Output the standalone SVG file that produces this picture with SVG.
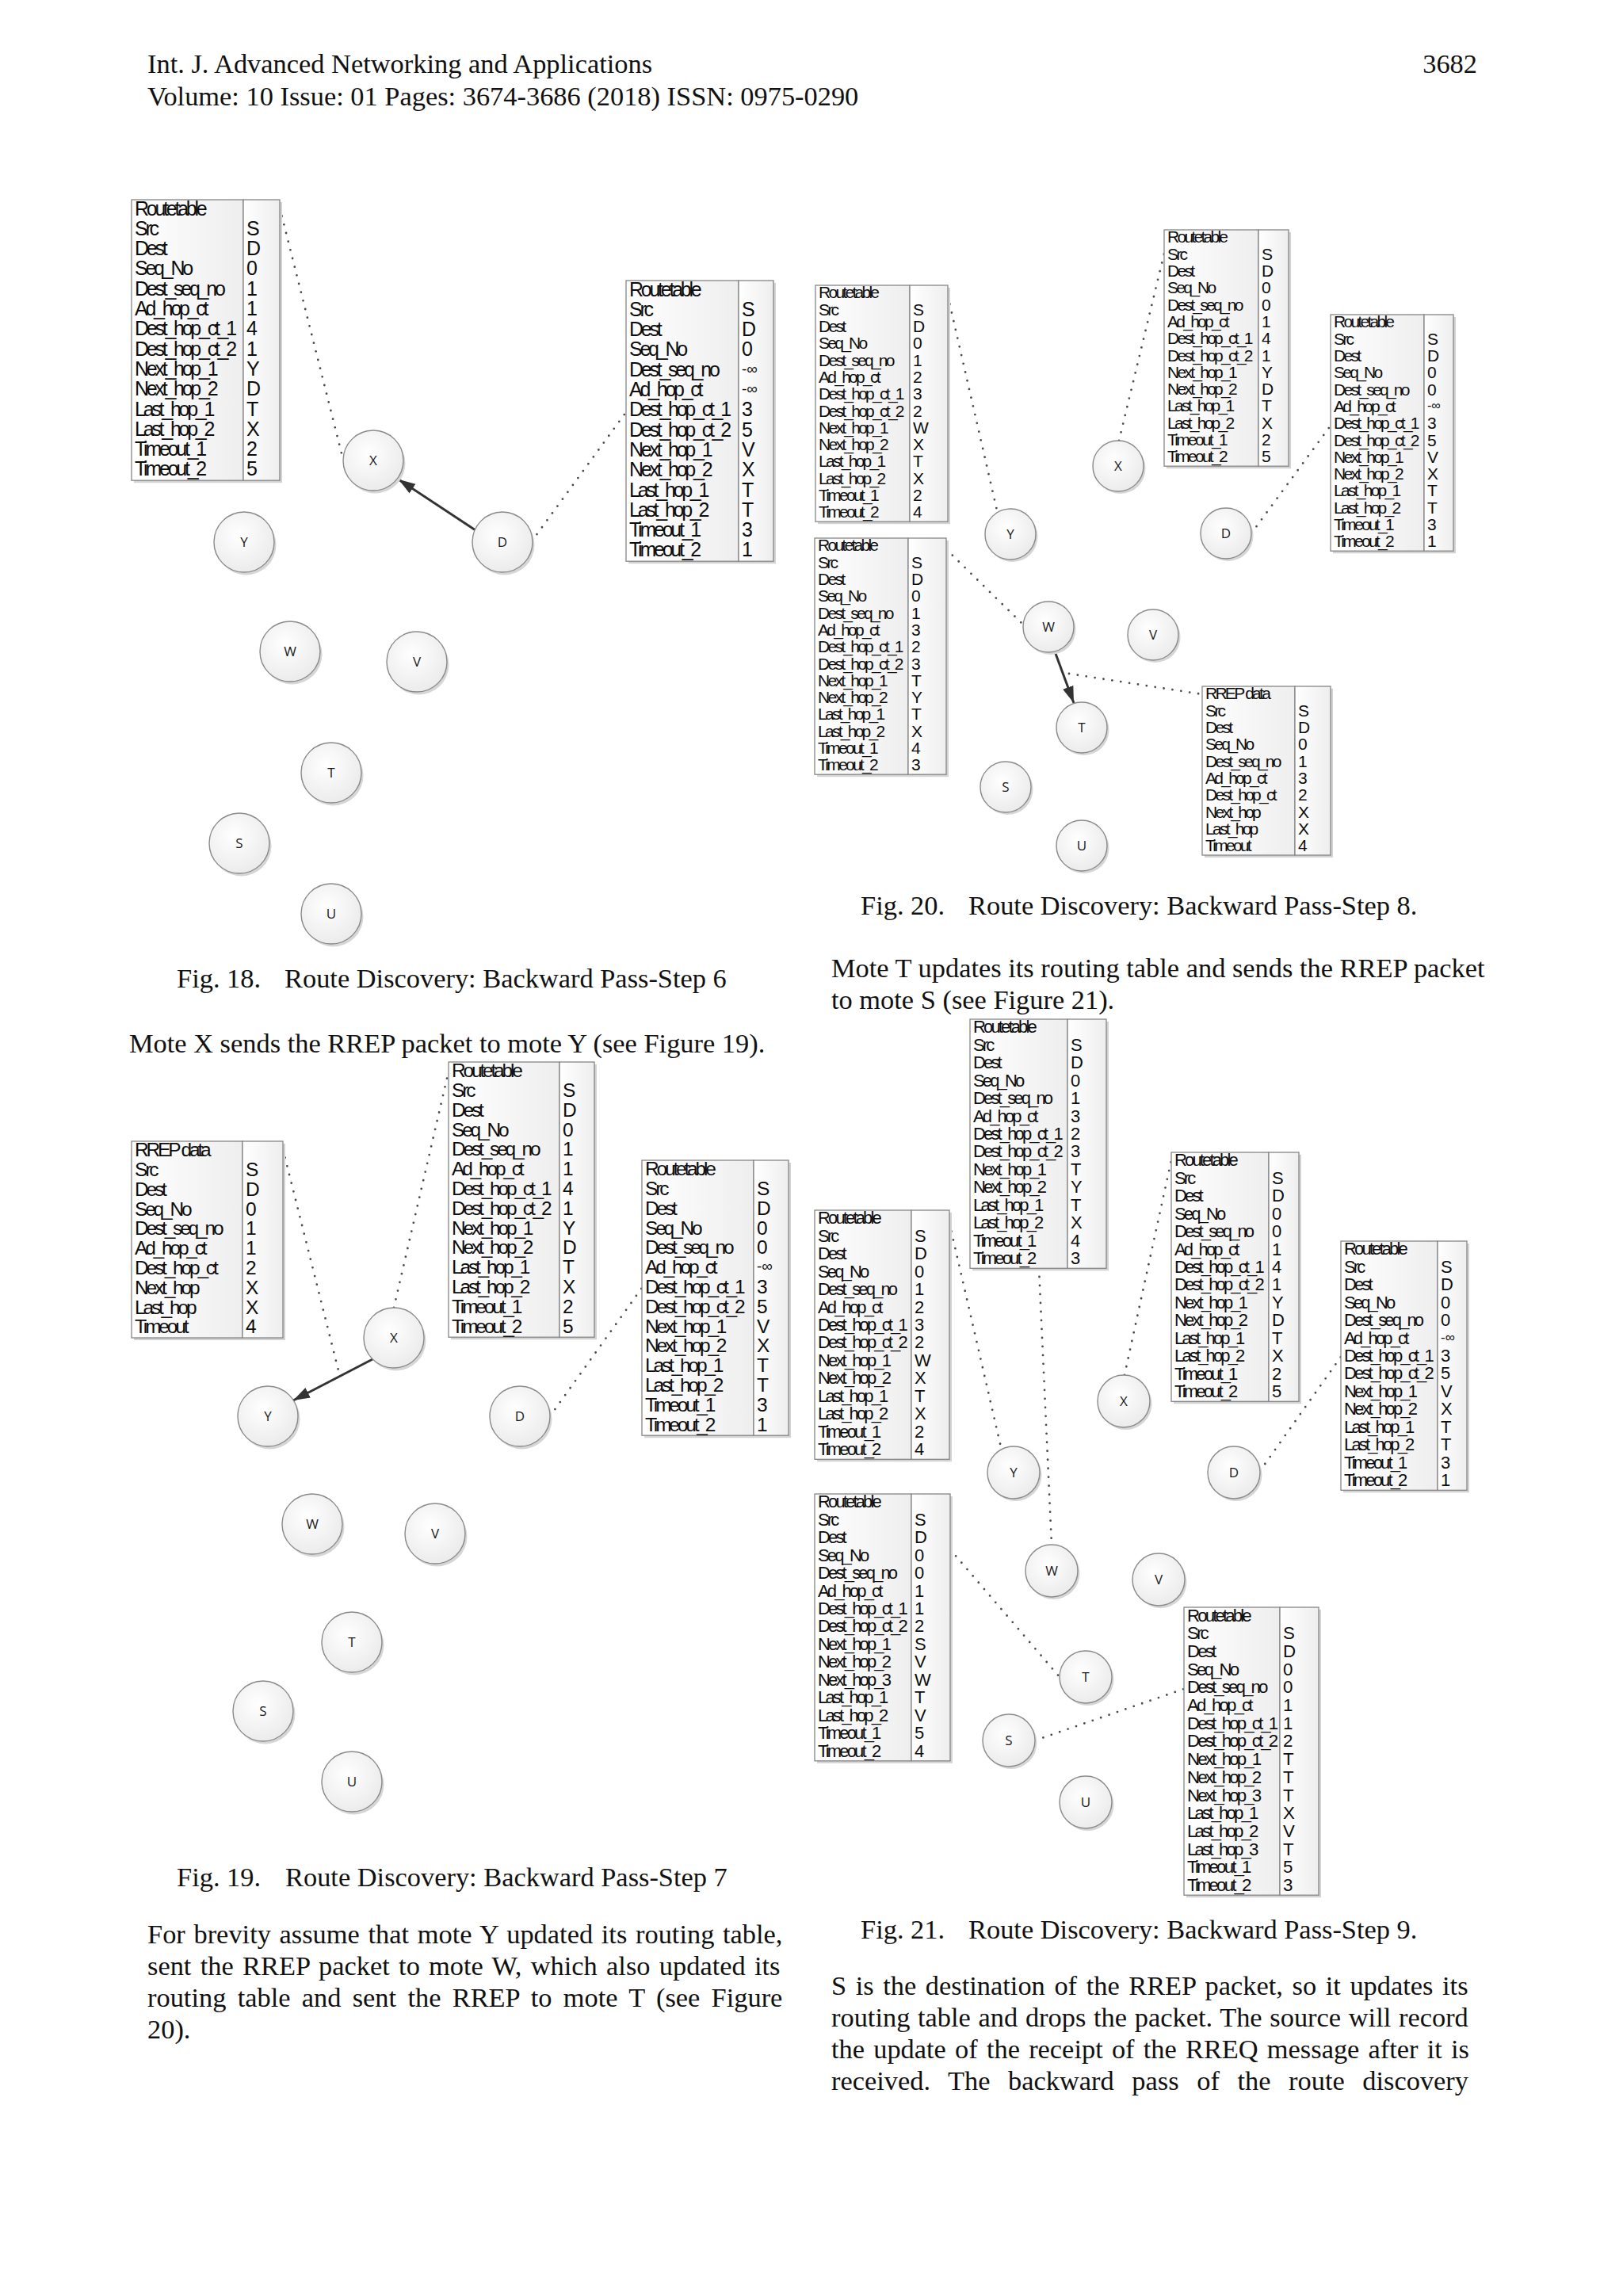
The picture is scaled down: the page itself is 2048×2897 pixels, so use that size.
<svg xmlns="http://www.w3.org/2000/svg" width="2048" height="2897" viewBox="0 0 2048 2897">
<defs>
<linearGradient id="cg" x1="0" y1="0" x2="1" y2="0"><stop offset="0" stop-color="#ffffff"/><stop offset="1" stop-color="#eeeeee"/></linearGradient>
<radialGradient id="ng" cx="0.42" cy="0.38" r="0.7"><stop offset="0" stop-color="#ffffff"/><stop offset="1" stop-color="#e9e9e9"/></radialGradient>
<marker id="ah" markerUnits="userSpaceOnUse" markerWidth="24" markerHeight="18" refX="21" refY="8" orient="auto"><path d="M0,1 L21,8 L0,15 z" fill="#333"/></marker>
<style>
.c{fill:url(#cg);stroke:#868686;stroke-width:1.3}
.sh{fill:#d3d3d3}
.tt text{font-family:"Liberation Sans",Arial,sans-serif;fill:#0d0d0d;letter-spacing:-0.13em}
.tt text.v{letter-spacing:0}
.nb{fill:url(#ng);stroke:#8a8a8a;stroke-width:1.4}
.ns{fill:#d6d6d6}
.nt{font-family:"Open Sans","Liberation Sans",sans-serif;font-size:17px;text-anchor:middle;fill:#1a1a1a}
.dot{fill:none;stroke:#4a4a4a;stroke-width:2.8;stroke-linecap:round;stroke-dasharray:0 11}
.arr{fill:none;stroke:#333;stroke-width:3;marker-end:url(#ah)}
.bt{font-family:"Liberation Serif","Times New Roman",serif;font-size:34.4px;fill:#111}
</style>
</defs>
<rect width="2048" height="2897" fill="#ffffff"/>

<g id="header" class="bt">
<text x="186" y="92">Int. J. Advanced Networking and Applications</text>
<text x="186" y="133">Volume: 10 Issue: 01 Pages: 3674-3686 (2018) ISSN: 0975-0290</text>
<text x="1864" y="92" text-anchor="end">3682</text>
</g>

<g id="connectors">
<line class="dot" x1="353" y1="262" x2="433" y2="580"/>
<line class="arr" x1="600" y1="669" x2="503" y2="605"/>
<line class="dot" x1="671" y1="683" x2="790" y2="520"/>
<line class="dot" x1="357" y1="1450" x2="427" y2="1729"/>
<line class="arr" x1="474" y1="1713" x2="370" y2="1767"/>
<line class="dot" x1="497" y1="1650" x2="566" y2="1352"/>
<line class="dot" x1="694" y1="1787" x2="810" y2="1625"/>
<line class="dot" x1="1196" y1="373" x2="1258" y2="644"/>
<line class="dot" x1="1412" y1="556" x2="1469" y2="320"/>
<line class="dot" x1="1579" y1="673" x2="1679" y2="537"/>
<line class="dot" x1="1194" y1="693" x2="1291" y2="788"/>
<line class="arr" x1="1331" y1="822" x2="1355" y2="887"/>
<line class="dot" x1="1349" y1="850" x2="1517" y2="876"/>
<line class="dot" x1="1198" y1="1543" x2="1263" y2="1826"/>
<line class="dot" x1="1311" y1="1600" x2="1327" y2="1949"/>
<line class="dot" x1="1419" y1="1735" x2="1478" y2="1464"/>
<line class="dot" x1="1590" y1="1856" x2="1692" y2="1712"/>
<line class="dot" x1="1199" y1="1955" x2="1337" y2="2116"/>
<line class="dot" x1="1306" y1="2196" x2="1494" y2="2131"/>
</g>

<g id="fig18-nodes">
<g id="n18-X" transform="translate(471,581)"><circle class="ns" cx="2.5" cy="3.5" r="38"/><circle class="nb" r="38"/><text class="nt" y="6">X</text></g>
<g id="n18-Y" transform="translate(308,684)"><circle class="ns" cx="2.5" cy="3.5" r="38"/><circle class="nb" r="38"/><text class="nt" y="6">Y</text></g>
<g id="n18-D" transform="translate(634,684)"><circle class="ns" cx="2.5" cy="3.5" r="38"/><circle class="nb" r="38"/><text class="nt" y="6">D</text></g>
<g id="n18-W" transform="translate(366,822)"><circle class="ns" cx="2.5" cy="3.5" r="38"/><circle class="nb" r="38"/><text class="nt" y="6">W</text></g>
<g id="n18-V" transform="translate(526,835)"><circle class="ns" cx="2.5" cy="3.5" r="38"/><circle class="nb" r="38"/><text class="nt" y="6">V</text></g>
<g id="n18-T" transform="translate(418,975)"><circle class="ns" cx="2.5" cy="3.5" r="38"/><circle class="nb" r="38"/><text class="nt" y="6">T</text></g>
<g id="n18-S" transform="translate(302,1064)"><circle class="ns" cx="2.5" cy="3.5" r="38"/><circle class="nb" r="38"/><text class="nt" y="6">S</text></g>
<g id="n18-U" transform="translate(418,1153)"><circle class="ns" cx="2.5" cy="3.5" r="38"/><circle class="nb" r="38"/><text class="nt" y="6">U</text></g>
</g>

<g id="fig19-nodes">
<g id="n19-X" transform="translate(497,1688)"><circle class="ns" cx="2.5" cy="3.5" r="38"/><circle class="nb" r="38"/><text class="nt" y="6">X</text></g>
<g id="n19-Y" transform="translate(338,1787)"><circle class="ns" cx="2.5" cy="3.5" r="38"/><circle class="nb" r="38"/><text class="nt" y="6">Y</text></g>
<g id="n19-D" transform="translate(656,1787)"><circle class="ns" cx="2.5" cy="3.5" r="38"/><circle class="nb" r="38"/><text class="nt" y="6">D</text></g>
<g id="n19-W" transform="translate(394,1923)"><circle class="ns" cx="2.5" cy="3.5" r="38"/><circle class="nb" r="38"/><text class="nt" y="6">W</text></g>
<g id="n19-V" transform="translate(549,1935)"><circle class="ns" cx="2.5" cy="3.5" r="38"/><circle class="nb" r="38"/><text class="nt" y="6">V</text></g>
<g id="n19-T" transform="translate(444,2072)"><circle class="ns" cx="2.5" cy="3.5" r="38"/><circle class="nb" r="38"/><text class="nt" y="6">T</text></g>
<g id="n19-S" transform="translate(332,2159)"><circle class="ns" cx="2.5" cy="3.5" r="38"/><circle class="nb" r="38"/><text class="nt" y="6">S</text></g>
<g id="n19-U" transform="translate(444,2248)"><circle class="ns" cx="2.5" cy="3.5" r="38"/><circle class="nb" r="38"/><text class="nt" y="6">U</text></g>
</g>

<g id="fig20-nodes">
<g id="n20-X" transform="translate(1411,588)"><circle class="ns" cx="2.5" cy="3" r="32"/><circle class="nb" r="32"/><text class="nt" y="6">X</text></g>
<g id="n20-Y" transform="translate(1275,674)"><circle class="ns" cx="2.5" cy="3" r="32"/><circle class="nb" r="32"/><text class="nt" y="6">Y</text></g>
<g id="n20-D" transform="translate(1547,673)"><circle class="ns" cx="2.5" cy="3" r="32"/><circle class="nb" r="32"/><text class="nt" y="6">D</text></g>
<g id="n20-W" transform="translate(1323,791)"><circle class="ns" cx="2.5" cy="3" r="32"/><circle class="nb" r="32"/><text class="nt" y="6">W</text></g>
<g id="n20-V" transform="translate(1455,801)"><circle class="ns" cx="2.5" cy="3" r="32"/><circle class="nb" r="32"/><text class="nt" y="6">V</text></g>
<g id="n20-T" transform="translate(1365,918)"><circle class="ns" cx="2.5" cy="3" r="32"/><circle class="nb" r="32"/><text class="nt" y="6">T</text></g>
<g id="n20-S" transform="translate(1269,993)"><circle class="ns" cx="2.5" cy="3" r="32"/><circle class="nb" r="32"/><text class="nt" y="6">S</text></g>
<g id="n20-U" transform="translate(1365,1067)"><circle class="ns" cx="2.5" cy="3" r="32"/><circle class="nb" r="32"/><text class="nt" y="6">U</text></g>
</g>

<g id="fig21-nodes">
<g id="n21-X" transform="translate(1418,1768)"><circle class="ns" cx="2.5" cy="3" r="33"/><circle class="nb" r="33"/><text class="nt" y="6">X</text></g>
<g id="n21-Y" transform="translate(1279,1858)"><circle class="ns" cx="2.5" cy="3" r="33"/><circle class="nb" r="33"/><text class="nt" y="6">Y</text></g>
<g id="n21-D" transform="translate(1557,1858)"><circle class="ns" cx="2.5" cy="3" r="33"/><circle class="nb" r="33"/><text class="nt" y="6">D</text></g>
<g id="n21-W" transform="translate(1327,1982)"><circle class="ns" cx="2.5" cy="3" r="33"/><circle class="nb" r="33"/><text class="nt" y="6">W</text></g>
<g id="n21-V" transform="translate(1462,1993)"><circle class="ns" cx="2.5" cy="3" r="33"/><circle class="nb" r="33"/><text class="nt" y="6">V</text></g>
<g id="n21-T" transform="translate(1370,2116)"><circle class="ns" cx="2.5" cy="3" r="33"/><circle class="nb" r="33"/><text class="nt" y="6">T</text></g>
<g id="n21-S" transform="translate(1273,2196)"><circle class="ns" cx="2.5" cy="3" r="33"/><circle class="nb" r="33"/><text class="nt" y="6">S</text></g>
<g id="n21-U" transform="translate(1370,2274)"><circle class="ns" cx="2.5" cy="3" r="33"/><circle class="nb" r="33"/><text class="nt" y="6">U</text></g>
</g>

<g id="t18a" transform="translate(166,252)">
<rect class="sh" x="3" y="3" width="187" height="354.2"/>
<rect class="c" width="141" height="354.2"/><rect class="c" x="141" width="46" height="354.2"/>
<g class="tt" font-size="25">
<text x="4" y="19.5">Routetable</text><text x="4" y="44.8">Src</text><text x="4" y="70.1">Dest</text><text x="4" y="95.4">Seq_No</text><text x="4" y="120.7">Dest_seq_no</text><text x="4" y="146">Ad_hop_ct</text><text x="4" y="171.3">Dest_hop_ct_1</text><text x="4" y="196.6">Dest_hop_ct_2</text><text x="4" y="221.9">Next_hop_1</text><text x="4" y="247.2">Next_hop_2</text><text x="4" y="272.5">Last_hop_1</text><text x="4" y="297.8">Last_hop_2</text><text x="4" y="323.1">Timeout_1</text><text x="4" y="348.4">Timeout_2</text>
<text class="v" x="145" y="44.8">S</text><text class="v" x="145" y="70.1">D</text><text class="v" x="145" y="95.4">0</text><text class="v" x="145" y="120.7">1</text><text class="v" x="145" y="146">1</text><text class="v" x="145" y="171.3">4</text><text class="v" x="145" y="196.6">1</text><text class="v" x="145" y="221.9">Y</text><text class="v" x="145" y="247.2">D</text><text class="v" x="145" y="272.5">T</text><text class="v" x="145" y="297.8">X</text><text class="v" x="145" y="323.1">2</text><text class="v" x="145" y="348.4">5</text>
</g></g>

<g id="t18b" transform="translate(790,354)">
<rect class="sh" x="3" y="3" width="186" height="354.2"/>
<rect class="c" width="142" height="354.2"/><rect class="c" x="142" width="44" height="354.2"/>
<g class="tt" font-size="25">
<text x="4" y="19.5">Routetable</text><text x="4" y="44.8">Src</text><text x="4" y="70.1">Dest</text><text x="4" y="95.4">Seq_No</text><text x="4" y="120.7">Dest_seq_no</text><text x="4" y="146">Ad_hop_ct</text><text x="4" y="171.3">Dest_hop_ct_1</text><text x="4" y="196.6">Dest_hop_ct_2</text><text x="4" y="221.9">Next_hop_1</text><text x="4" y="247.2">Next_hop_2</text><text x="4" y="272.5">Last_hop_1</text><text x="4" y="297.8">Last_hop_2</text><text x="4" y="323.1">Timeout_1</text><text x="4" y="348.4">Timeout_2</text>
<text class="v" x="146" y="44.8">S</text><text class="v" x="146" y="70.1">D</text><text class="v" x="146" y="95.4">0</text><text class="v" x="146" y="117.7" font-size="19">-∞</text><text class="v" x="146" y="143" font-size="19">-∞</text><text class="v" x="146" y="171.3">3</text><text class="v" x="146" y="196.6">5</text><text class="v" x="146" y="221.9">V</text><text class="v" x="146" y="247.2">X</text><text class="v" x="146" y="272.5">T</text><text class="v" x="146" y="297.8">T</text><text class="v" x="146" y="323.1">3</text><text class="v" x="146" y="348.4">1</text>
</g></g>

<g id="t19rrep" transform="translate(166,1440)">
<rect class="sh" x="3" y="3" width="191" height="248"/>
<rect class="c" width="140" height="248"/><rect class="c" x="140" width="51" height="248"/>
<g class="tt" font-size="24.5">
<text x="4" y="19.1">RREP data</text><text x="4" y="43.9">Src</text><text x="4" y="68.7">Dest</text><text x="4" y="93.5">Seq_No</text><text x="4" y="118.3">Dest_seq_no</text><text x="4" y="143.1">Ad_hop_ct</text><text x="4" y="167.9">Dest_hop_ct</text><text x="4" y="192.7">Next_hop</text><text x="4" y="217.5">Last_hop</text><text x="4" y="242.3">Timeout</text>
<text class="v" x="144" y="43.9">S</text><text class="v" x="144" y="68.7">D</text><text class="v" x="144" y="93.5">0</text><text class="v" x="144" y="118.3">1</text><text class="v" x="144" y="143.1">1</text><text class="v" x="144" y="167.9">2</text><text class="v" x="144" y="192.7">X</text><text class="v" x="144" y="217.5">X</text><text class="v" x="144" y="242.3">4</text>
</g></g>

<g id="t19x" transform="translate(566,1340)">
<rect class="sh" x="3" y="3" width="184" height="347.2"/>
<rect class="c" width="140" height="347.2"/><rect class="c" x="140" width="44" height="347.2"/>
<g class="tt" font-size="24.5">
<text x="4" y="19.1">Routetable</text><text x="4" y="43.9">Src</text><text x="4" y="68.7">Dest</text><text x="4" y="93.5">Seq_No</text><text x="4" y="118.3">Dest_seq_no</text><text x="4" y="143.1">Ad_hop_ct</text><text x="4" y="167.9">Dest_hop_ct_1</text><text x="4" y="192.7">Dest_hop_ct_2</text><text x="4" y="217.5">Next_hop_1</text><text x="4" y="242.3">Next_hop_2</text><text x="4" y="267.1">Last_hop_1</text><text x="4" y="291.9">Last_hop_2</text><text x="4" y="316.7">Timeout_1</text><text x="4" y="341.5">Timeout_2</text>
<text class="v" x="144" y="43.9">S</text><text class="v" x="144" y="68.7">D</text><text class="v" x="144" y="93.5">0</text><text class="v" x="144" y="118.3">1</text><text class="v" x="144" y="143.1">1</text><text class="v" x="144" y="167.9">4</text><text class="v" x="144" y="192.7">1</text><text class="v" x="144" y="217.5">Y</text><text class="v" x="144" y="242.3">D</text><text class="v" x="144" y="267.1">T</text><text class="v" x="144" y="291.9">X</text><text class="v" x="144" y="316.7">2</text><text class="v" x="144" y="341.5">5</text>
</g></g>

<g id="t19d" transform="translate(810,1464)">
<rect class="sh" x="3" y="3" width="185" height="347.2"/>
<rect class="c" width="141" height="347.2"/><rect class="c" x="141" width="44" height="347.2"/>
<g class="tt" font-size="24.5">
<text x="4" y="19.1">Routetable</text><text x="4" y="43.9">Src</text><text x="4" y="68.7">Dest</text><text x="4" y="93.5">Seq_No</text><text x="4" y="118.3">Dest_seq_no</text><text x="4" y="143.1">Ad_hop_ct</text><text x="4" y="167.9">Dest_hop_ct_1</text><text x="4" y="192.7">Dest_hop_ct_2</text><text x="4" y="217.5">Next_hop_1</text><text x="4" y="242.3">Next_hop_2</text><text x="4" y="267.1">Last_hop_1</text><text x="4" y="291.9">Last_hop_2</text><text x="4" y="316.7">Timeout_1</text><text x="4" y="341.5">Timeout_2</text>
<text class="v" x="145" y="43.9">S</text><text class="v" x="145" y="68.7">D</text><text class="v" x="145" y="93.5">0</text><text class="v" x="145" y="118.3">0</text><text class="v" x="145" y="140.1" font-size="19">-∞</text><text class="v" x="145" y="167.9">3</text><text class="v" x="145" y="192.7">5</text><text class="v" x="145" y="217.5">V</text><text class="v" x="145" y="242.3">X</text><text class="v" x="145" y="267.1">T</text><text class="v" x="145" y="291.9">T</text><text class="v" x="145" y="316.7">3</text><text class="v" x="145" y="341.5">1</text>
</g></g>

<g id="t20y" transform="translate(1029,360)">
<rect class="sh" x="3" y="3" width="167" height="298.2"/>
<rect class="c" width="119" height="298.2"/><rect class="c" x="119" width="48" height="298.2"/>
<g class="tt" font-size="21">
<text x="4" y="16.4">Routetable</text><text x="4" y="37.7">Src</text><text x="4" y="59">Dest</text><text x="4" y="80.3">Seq_No</text><text x="4" y="101.6">Dest_seq_no</text><text x="4" y="122.9">Ad_hop_ct</text><text x="4" y="144.2">Dest_hop_ct_1</text><text x="4" y="165.5">Dest_hop_ct_2</text><text x="4" y="186.8">Next_hop_1</text><text x="4" y="208.1">Next_hop_2</text><text x="4" y="229.4">Last_hop_1</text><text x="4" y="250.7">Last_hop_2</text><text x="4" y="272">Timeout_1</text><text x="4" y="293.3">Timeout_2</text>
<text class="v" x="123" y="37.7">S</text><text class="v" x="123" y="59">D</text><text class="v" x="123" y="80.3">0</text><text class="v" x="123" y="101.6">1</text><text class="v" x="123" y="122.9">2</text><text class="v" x="123" y="144.2">3</text><text class="v" x="123" y="165.5">2</text><text class="v" x="123" y="186.8">W</text><text class="v" x="123" y="208.1">X</text><text class="v" x="123" y="229.4">T</text><text class="v" x="123" y="250.7">X</text><text class="v" x="123" y="272">2</text><text class="v" x="123" y="293.3">4</text>
</g></g>

<g id="t20x" transform="translate(1469,290)">
<rect class="sh" x="3" y="3" width="157" height="298.2"/>
<rect class="c" width="119" height="298.2"/><rect class="c" x="119" width="38" height="298.2"/>
<g class="tt" font-size="21">
<text x="4" y="16.4">Routetable</text><text x="4" y="37.7">Src</text><text x="4" y="59">Dest</text><text x="4" y="80.3">Seq_No</text><text x="4" y="101.6">Dest_seq_no</text><text x="4" y="122.9">Ad_hop_ct</text><text x="4" y="144.2">Dest_hop_ct_1</text><text x="4" y="165.5">Dest_hop_ct_2</text><text x="4" y="186.8">Next_hop_1</text><text x="4" y="208.1">Next_hop_2</text><text x="4" y="229.4">Last_hop_1</text><text x="4" y="250.7">Last_hop_2</text><text x="4" y="272">Timeout_1</text><text x="4" y="293.3">Timeout_2</text>
<text class="v" x="123" y="37.7">S</text><text class="v" x="123" y="59">D</text><text class="v" x="123" y="80.3">0</text><text class="v" x="123" y="101.6">0</text><text class="v" x="123" y="122.9">1</text><text class="v" x="123" y="144.2">4</text><text class="v" x="123" y="165.5">1</text><text class="v" x="123" y="186.8">Y</text><text class="v" x="123" y="208.1">D</text><text class="v" x="123" y="229.4">T</text><text class="v" x="123" y="250.7">X</text><text class="v" x="123" y="272">2</text><text class="v" x="123" y="293.3">5</text>
</g></g>

<g id="t20d" transform="translate(1679,397)">
<rect class="sh" x="3" y="3" width="155" height="298.2"/>
<rect class="c" width="118" height="298.2"/><rect class="c" x="118" width="37" height="298.2"/>
<g class="tt" font-size="21">
<text x="4" y="16.4">Routetable</text><text x="4" y="37.7">Src</text><text x="4" y="59">Dest</text><text x="4" y="80.3">Seq_No</text><text x="4" y="101.6">Dest_seq_no</text><text x="4" y="122.9">Ad_hop_ct</text><text x="4" y="144.2">Dest_hop_ct_1</text><text x="4" y="165.5">Dest_hop_ct_2</text><text x="4" y="186.8">Next_hop_1</text><text x="4" y="208.1">Next_hop_2</text><text x="4" y="229.4">Last_hop_1</text><text x="4" y="250.7">Last_hop_2</text><text x="4" y="272">Timeout_1</text><text x="4" y="293.3">Timeout_2</text>
<text class="v" x="122" y="37.7">S</text><text class="v" x="122" y="59">D</text><text class="v" x="122" y="80.3">0</text><text class="v" x="122" y="101.6">0</text><text class="v" x="122" y="120.4" font-size="16">-∞</text><text class="v" x="122" y="144.2">3</text><text class="v" x="122" y="165.5">5</text><text class="v" x="122" y="186.8">V</text><text class="v" x="122" y="208.1">X</text><text class="v" x="122" y="229.4">T</text><text class="v" x="122" y="250.7">T</text><text class="v" x="122" y="272">3</text><text class="v" x="122" y="293.3">1</text>
</g></g>

<g id="t20w" transform="translate(1028,679)">
<rect class="sh" x="3" y="3" width="166" height="298.2"/>
<rect class="c" width="118" height="298.2"/><rect class="c" x="118" width="48" height="298.2"/>
<g class="tt" font-size="21">
<text x="4" y="16.4">Routetable</text><text x="4" y="37.7">Src</text><text x="4" y="59">Dest</text><text x="4" y="80.3">Seq_No</text><text x="4" y="101.6">Dest_seq_no</text><text x="4" y="122.9">Ad_hop_ct</text><text x="4" y="144.2">Dest_hop_ct_1</text><text x="4" y="165.5">Dest_hop_ct_2</text><text x="4" y="186.8">Next_hop_1</text><text x="4" y="208.1">Next_hop_2</text><text x="4" y="229.4">Last_hop_1</text><text x="4" y="250.7">Last_hop_2</text><text x="4" y="272">Timeout_1</text><text x="4" y="293.3">Timeout_2</text>
<text class="v" x="122" y="37.7">S</text><text class="v" x="122" y="59">D</text><text class="v" x="122" y="80.3">0</text><text class="v" x="122" y="101.6">1</text><text class="v" x="122" y="122.9">3</text><text class="v" x="122" y="144.2">2</text><text class="v" x="122" y="165.5">3</text><text class="v" x="122" y="186.8">T</text><text class="v" x="122" y="208.1">Y</text><text class="v" x="122" y="229.4">T</text><text class="v" x="122" y="250.7">X</text><text class="v" x="122" y="272">4</text><text class="v" x="122" y="293.3">3</text>
</g></g>

<g id="t20rrep" transform="translate(1517,866)">
<rect class="sh" x="3" y="3" width="162" height="213"/>
<rect class="c" width="117" height="213"/><rect class="c" x="117" width="45" height="213"/>
<g class="tt" font-size="21">
<text x="4" y="16.4">RREP data</text><text x="4" y="37.7">Src</text><text x="4" y="59">Dest</text><text x="4" y="80.3">Seq_No</text><text x="4" y="101.6">Dest_seq_no</text><text x="4" y="122.9">Ad_hop_ct</text><text x="4" y="144.2">Dest_hop_ct</text><text x="4" y="165.5">Next_hop</text><text x="4" y="186.8">Last_hop</text><text x="4" y="208.1">Timeout</text>
<text class="v" x="121" y="37.7">S</text><text class="v" x="121" y="59">D</text><text class="v" x="121" y="80.3">0</text><text class="v" x="121" y="101.6">1</text><text class="v" x="121" y="122.9">3</text><text class="v" x="121" y="144.2">2</text><text class="v" x="121" y="165.5">X</text><text class="v" x="121" y="186.8">X</text><text class="v" x="121" y="208.1">4</text>
</g></g>

<g id="t21w" transform="translate(1224,1286)">
<rect class="sh" x="3" y="3" width="172" height="314.3"/>
<rect class="c" width="123" height="314.3"/><rect class="c" x="123" width="49" height="314.3"/>
<g class="tt" font-size="22">
<text x="4" y="17.3">Routetable</text><text x="4" y="39.7">Src</text><text x="4" y="62.2">Dest</text><text x="4" y="84.6">Seq_No</text><text x="4" y="107.1">Dest_seq_no</text><text x="4" y="129.5">Ad_hop_ct</text><text x="4" y="152">Dest_hop_ct_1</text><text x="4" y="174.4">Dest_hop_ct_2</text><text x="4" y="196.9">Next_hop_1</text><text x="4" y="219.3">Next_hop_2</text><text x="4" y="241.8">Last_hop_1</text><text x="4" y="264.2">Last_hop_2</text><text x="4" y="286.7">Timeout_1</text><text x="4" y="309.1">Timeout_2</text>
<text class="v" x="127" y="39.7">S</text><text class="v" x="127" y="62.2">D</text><text class="v" x="127" y="84.6">0</text><text class="v" x="127" y="107.1">1</text><text class="v" x="127" y="129.5">3</text><text class="v" x="127" y="152">2</text><text class="v" x="127" y="174.4">3</text><text class="v" x="127" y="196.9">T</text><text class="v" x="127" y="219.3">Y</text><text class="v" x="127" y="241.8">T</text><text class="v" x="127" y="264.2">X</text><text class="v" x="127" y="286.7">4</text><text class="v" x="127" y="309.1">3</text>
</g></g>

<g id="t21y" transform="translate(1028,1527)">
<rect class="sh" x="3" y="3" width="170" height="314.3"/>
<rect class="c" width="122" height="314.3"/><rect class="c" x="122" width="48" height="314.3"/>
<g class="tt" font-size="22">
<text x="4" y="17.3">Routetable</text><text x="4" y="39.7">Src</text><text x="4" y="62.2">Dest</text><text x="4" y="84.6">Seq_No</text><text x="4" y="107.1">Dest_seq_no</text><text x="4" y="129.5">Ad_hop_ct</text><text x="4" y="152">Dest_hop_ct_1</text><text x="4" y="174.4">Dest_hop_ct_2</text><text x="4" y="196.9">Next_hop_1</text><text x="4" y="219.3">Next_hop_2</text><text x="4" y="241.8">Last_hop_1</text><text x="4" y="264.2">Last_hop_2</text><text x="4" y="286.7">Timeout_1</text><text x="4" y="309.1">Timeout_2</text>
<text class="v" x="126" y="39.7">S</text><text class="v" x="126" y="62.2">D</text><text class="v" x="126" y="84.6">0</text><text class="v" x="126" y="107.1">1</text><text class="v" x="126" y="129.5">2</text><text class="v" x="126" y="152">3</text><text class="v" x="126" y="174.4">2</text><text class="v" x="126" y="196.9">W</text><text class="v" x="126" y="219.3">X</text><text class="v" x="126" y="241.8">T</text><text class="v" x="126" y="264.2">X</text><text class="v" x="126" y="286.7">2</text><text class="v" x="126" y="309.1">4</text>
</g></g>

<g id="t21x" transform="translate(1478,1454)">
<rect class="sh" x="3" y="3" width="161" height="314.3"/>
<rect class="c" width="123" height="314.3"/><rect class="c" x="123" width="38" height="314.3"/>
<g class="tt" font-size="22">
<text x="4" y="17.3">Routetable</text><text x="4" y="39.7">Src</text><text x="4" y="62.2">Dest</text><text x="4" y="84.6">Seq_No</text><text x="4" y="107.1">Dest_seq_no</text><text x="4" y="129.5">Ad_hop_ct</text><text x="4" y="152">Dest_hop_ct_1</text><text x="4" y="174.4">Dest_hop_ct_2</text><text x="4" y="196.9">Next_hop_1</text><text x="4" y="219.3">Next_hop_2</text><text x="4" y="241.8">Last_hop_1</text><text x="4" y="264.2">Last_hop_2</text><text x="4" y="286.7">Timeout_1</text><text x="4" y="309.1">Timeout_2</text>
<text class="v" x="127" y="39.7">S</text><text class="v" x="127" y="62.2">D</text><text class="v" x="127" y="84.6">0</text><text class="v" x="127" y="107.1">0</text><text class="v" x="127" y="129.5">1</text><text class="v" x="127" y="152">4</text><text class="v" x="127" y="174.4">1</text><text class="v" x="127" y="196.9">Y</text><text class="v" x="127" y="219.3">D</text><text class="v" x="127" y="241.8">T</text><text class="v" x="127" y="264.2">X</text><text class="v" x="127" y="286.7">2</text><text class="v" x="127" y="309.1">5</text>
</g></g>

<g id="t21d" transform="translate(1692,1566)">
<rect class="sh" x="3" y="3" width="159" height="314.3"/>
<rect class="c" width="122" height="314.3"/><rect class="c" x="122" width="37" height="314.3"/>
<g class="tt" font-size="22">
<text x="4" y="17.3">Routetable</text><text x="4" y="39.7">Src</text><text x="4" y="62.2">Dest</text><text x="4" y="84.6">Seq_No</text><text x="4" y="107.1">Dest_seq_no</text><text x="4" y="129.5">Ad_hop_ct</text><text x="4" y="152">Dest_hop_ct_1</text><text x="4" y="174.4">Dest_hop_ct_2</text><text x="4" y="196.9">Next_hop_1</text><text x="4" y="219.3">Next_hop_2</text><text x="4" y="241.8">Last_hop_1</text><text x="4" y="264.2">Last_hop_2</text><text x="4" y="286.7">Timeout_1</text><text x="4" y="309.1">Timeout_2</text>
<text class="v" x="126" y="39.7">S</text><text class="v" x="126" y="62.2">D</text><text class="v" x="126" y="84.6">0</text><text class="v" x="126" y="107.1">0</text><text class="v" x="126" y="127" font-size="17">-∞</text><text class="v" x="126" y="152">3</text><text class="v" x="126" y="174.4">5</text><text class="v" x="126" y="196.9">V</text><text class="v" x="126" y="219.3">X</text><text class="v" x="126" y="241.8">T</text><text class="v" x="126" y="264.2">T</text><text class="v" x="126" y="286.7">3</text><text class="v" x="126" y="309.1">1</text>
</g></g>

<g id="t21t" transform="translate(1028,1885)">
<rect class="sh" x="3" y="3" width="171" height="336.8"/>
<rect class="c" width="122" height="336.8"/><rect class="c" x="122" width="49" height="336.8"/>
<g class="tt" font-size="22">
<text x="4" y="17.3">Routetable</text><text x="4" y="39.7">Src</text><text x="4" y="62.2">Dest</text><text x="4" y="84.6">Seq_No</text><text x="4" y="107.1">Dest_seq_no</text><text x="4" y="129.5">Ad_hop_ct</text><text x="4" y="152">Dest_hop_ct_1</text><text x="4" y="174.4">Dest_hop_ct_2</text><text x="4" y="196.9">Next_hop_1</text><text x="4" y="219.3">Next_hop_2</text><text x="4" y="241.8">Next_hop_3</text><text x="4" y="264.2">Last_hop_1</text><text x="4" y="286.7">Last_hop_2</text><text x="4" y="309.1">Timeout_1</text><text x="4" y="331.6">Timeout_2</text>
<text class="v" x="126" y="39.7">S</text><text class="v" x="126" y="62.2">D</text><text class="v" x="126" y="84.6">0</text><text class="v" x="126" y="107.1">0</text><text class="v" x="126" y="129.5">1</text><text class="v" x="126" y="152">1</text><text class="v" x="126" y="174.4">2</text><text class="v" x="126" y="196.9">S</text><text class="v" x="126" y="219.3">V</text><text class="v" x="126" y="241.8">W</text><text class="v" x="126" y="264.2">T</text><text class="v" x="126" y="286.7">V</text><text class="v" x="126" y="309.1">5</text><text class="v" x="126" y="331.6">4</text>
</g></g>

<g id="t21s" transform="translate(1494,2028)">
<rect class="sh" x="3" y="3" width="170" height="363.2"/>
<rect class="c" width="121" height="363.2"/><rect class="c" x="121" width="49" height="363.2"/>
<g class="tt" font-size="22.3">
<text x="4" y="17.5">Routetable</text><text x="4" y="40.2">Src</text><text x="4" y="62.9">Dest</text><text x="4" y="85.6">Seq_No</text><text x="4" y="108.3">Dest_seq_no</text><text x="4" y="131">Ad_hop_ct</text><text x="4" y="153.7">Dest_hop_ct_1</text><text x="4" y="176.4">Dest_hop_ct_2</text><text x="4" y="199.1">Next_hop_1</text><text x="4" y="221.8">Next_hop_2</text><text x="4" y="244.5">Next_hop_3</text><text x="4" y="267.2">Last_hop_1</text><text x="4" y="289.9">Last_hop_2</text><text x="4" y="312.6">Last_hop_3</text><text x="4" y="335.3">Timeout_1</text><text x="4" y="358">Timeout_2</text>
<text class="v" x="125" y="40.2">S</text><text class="v" x="125" y="62.9">D</text><text class="v" x="125" y="85.6">0</text><text class="v" x="125" y="108.3">0</text><text class="v" x="125" y="131">1</text><text class="v" x="125" y="153.7">1</text><text class="v" x="125" y="176.4">2</text><text class="v" x="125" y="199.1">T</text><text class="v" x="125" y="221.8">T</text><text class="v" x="125" y="244.5">T</text><text class="v" x="125" y="267.2">X</text><text class="v" x="125" y="289.9">V</text><text class="v" x="125" y="312.6">T</text><text class="v" x="125" y="335.3">5</text><text class="v" x="125" y="358">3</text>
</g></g>

<g id="text" class="bt">
<text y="1246"><tspan x="223">Fig. 18.</tspan><tspan x="359">Route Discovery: Backward Pass-Step 6</tspan></text>
<text x="163" y="1328">Mote X sends the RREP packet to mote Y (see Figure 19).</text>
<text y="2380"><tspan x="223">Fig. 19.</tspan><tspan x="360">Route Discovery: Backward Pass-Step 7</tspan></text>
<text x="186" y="2452" word-spacing="2.1">For brevity assume that mote Y updated its routing table,</text>
<text x="186" y="2492" word-spacing="2.7">sent the RREP packet to mote W, which also updated its</text>
<text x="186" y="2532" word-spacing="5.7">routing table and sent the RREP to mote T (see Figure</text>
<text x="186" y="2572">20).</text>
<text y="1154"><tspan x="1086">Fig. 20.</tspan><tspan x="1222">Route Discovery: Backward Pass-Step 8.</tspan></text>
<text x="1049" y="1233">Mote T updates its routing table and sends the RREP packet</text>
<text x="1049" y="1273">to mote S (see Figure 21).</text>
<text y="2446"><tspan x="1086">Fig. 21.</tspan><tspan x="1222">Route Discovery: Backward Pass-Step 9.</tspan></text>
<text x="1049" y="2517" word-spacing="3">S is the destination of the RREP packet, so it updates its</text>
<text x="1049" y="2557" word-spacing="1.1">routing table and drops the packet. The source will record</text>
<text x="1049" y="2597" word-spacing="2.6">the update of the receipt of the RREQ message after it is</text>
<text x="1049" y="2637" word-spacing="14">received. The backward pass of the route discovery</text>
</g>
</svg>
